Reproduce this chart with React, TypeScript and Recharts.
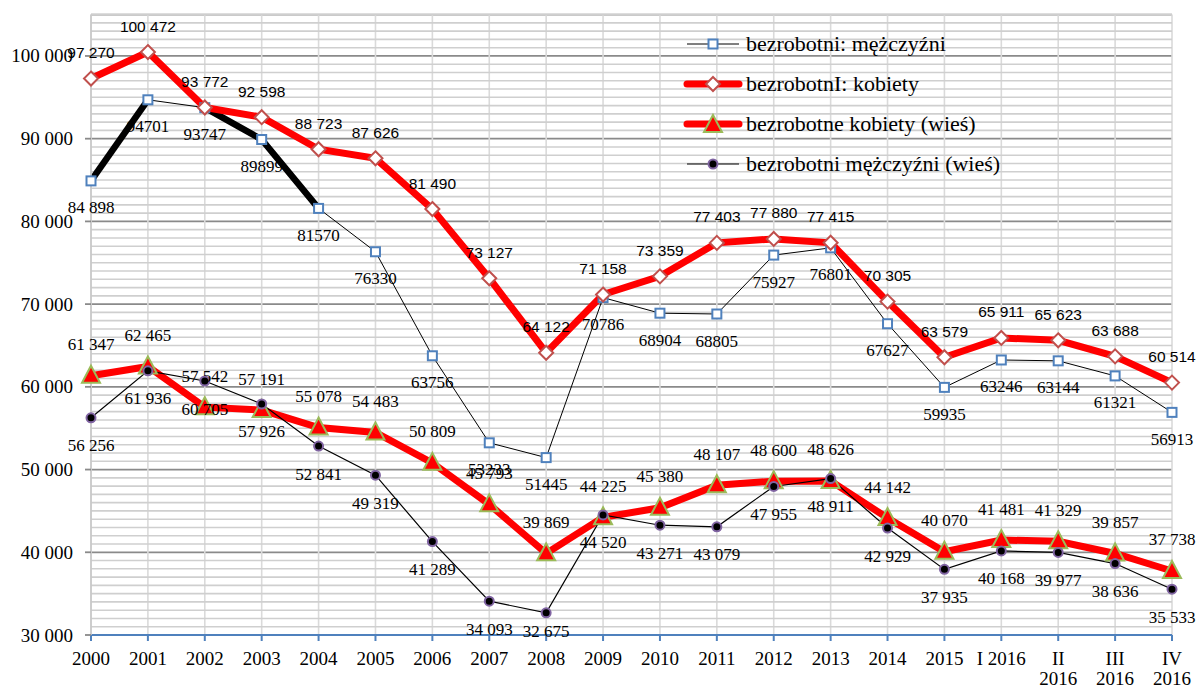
import React from "react";
import {
  LineChart,
  Line,
  XAxis,
  YAxis,
  CartesianGrid,
  ReferenceLine,
  LabelList,
  Legend,
} from "recharts";

const categories = [
  "2000", "2001", "2002", "2003", "2004", "2005", "2006", "2007", "2008", "2009",
  "2010", "2011", "2012", "2013", "2014", "2015", "I 2016", "II 2016", "III 2016", "IV 2016",
];
const tickLabels = [
  ["2000"], ["2001"], ["2002"], ["2003"], ["2004"], ["2005"], ["2006"], ["2007"], ["2008"], ["2009"],
  ["2010"], ["2011"], ["2012"], ["2013"], ["2014"], ["2015"], ["I 2016"], ["II", "2016"], ["III", "2016"], ["IV", "2016"],
];
const men = [
  84898, 94701, 93747, 89899, 81570, 76330, 63756, 53233, 51445, 70786,
  68904, 68805, 75927, 76801, 67627, 59935, 63246, 63144, 61321, 56913,
];
const women = [
  97270, 100472, 93772, 92598, 88723, 87626, 81490, 73127, 64122, 71158,
  73359, 77403, 77880, 77415, 70305, 63579, 65911, 65623, 63688, 60514,
];
const ruralWomen = [
  61347, 62465, 57542, 57191, 55078, 54483, 50809, 45793, 39869, 44225,
  45380, 48107, 48600, 48626, 44142, 40070, 41481, 41329, 39857, 37738,
];
const ruralMen = [
  56256, 61936, 60705, 57926, 52841, 49319, 41289, 34093, 32675, 44520,
  43271, 43079, 47955, 48911, 42929, 37935, 40168, 39977, 38636, 35533,
];
// index ranges of the thick black segments drawn over the men series
const thickSegA = [0, 1];
const thickSegB = [2, 4];
const yTicks = [30000, 40000, 50000, 60000, 70000, 80000, 90000, 100000];
const minorTicks = Array.from({ length: 75 }, (_, i) => 31000 + i * 1000).filter((v) => v % 10000 !== 0);

const data = categories.map((c, i) => ({
  cat: c,
  men: men[i],
  women: women[i],
  ruralWomen: ruralWomen[i],
  ruralMen: ruralMen[i],
  thickA: i >= thickSegA[0] && i <= thickSegA[1] ? men[i] : null,
  thickB: i >= thickSegB[0] && i <= thickSegB[1] ? men[i] : null,
}));

const fmtSpace = (v: number) => {
  const s = String(v);
  return s.length > 3 ? s.slice(0, s.length - 3) + " " + s.slice(s.length - 3) : s;
};

const SERIF = "Liberation Serif";
const SANS = "Liberation Sans";

const SquareDot = (p: any) => {
  const { cx, cy, index } = p;
  if (cx == null || cy == null) return <g key={`sq-${index}`} />;
  return <rect key={`sq-${index}`} x={cx - 4.5} y={cy - 4.5} width={9} height={9} fill="#fff" stroke="#4f81bd" strokeWidth={2} />;
};
const DiamondDot = (p: any) => {
  const { cx, cy, index } = p;
  if (cx == null || cy == null) return <g key={`di-${index}`} />;
  return (
    <polygon
      key={`di-${index}`}
      points={`${cx},${cy - 7} ${cx + 7},${cy} ${cx},${cy + 7} ${cx - 7},${cy}`}
      fill="#fff"
      stroke="#c0504d"
      strokeWidth={2}
    />
  );
};
const TriangleDot = (p: any) => {
  const { cx, cy, index } = p;
  if (cx == null || cy == null) return <g key={`tr-${index}`} />;
  return (
    <polygon
      key={`tr-${index}`}
      points={`${cx},${cy - 10} ${cx + 9},${cy + 7} ${cx - 9},${cy + 7}`}
      fill="#ff0000"
      stroke="#9bbb59"
      strokeWidth={2}
    />
  );
};
const CircleDot = (p: any) => {
  const { cx, cy, index } = p;
  if (cx == null || cy == null) return <g key={`ci-${index}`} />;
  return <circle key={`ci-${index}`} cx={cx} cy={cy} r={4.5} fill="#000" stroke="#8064a2" strokeWidth={2} />;
};

const makeLabel = (offset: number, font: string, size: number, format: (v: number, i: number) => string) =>
  (p: any) => {
    const { x, y, value, index } = p;
    if (x == null || y == null || value == null) return null;
    const ty = Math.min(Number(y) + offset, 631);
    return (
      <text
        key={`lb-${index}`}
        x={x}
        y={ty}
        textAnchor="middle"
        dominantBaseline="central"
        style={{ fontFamily: font, fontSize: size }}
        fill="#000"
      >
        {format(Number(value), index)}
      </text>
    );
  };

const menLabel = makeLabel(27, SERIF, 17, (v, i) => (i === 0 ? fmtSpace(v) : String(v)));
const womenLabel = makeLabel(-26, SANS, 15.5, (v) => fmtSpace(v));
const ruralWomenLabel = makeLabel(-31, SERIF, 17, (v) => fmtSpace(v));
const ruralMenLabel = makeLabel(28, SERIF, 17, (v) => fmtSpace(v));

const XTick = (p: any) => {
  const { x, y, payload } = p;
  const lines = tickLabels[payload.index] || [String(payload.value)];
  return (
    <g>
      {lines.map((l: string, k: number) => (
        <text key={k} x={x} y={y + 22 + k * 20} textAnchor="middle" style={{ fontFamily: SERIF, fontSize: 19 }} fill="#000">
          {l}
        </text>
      ))}
    </g>
  );
};

const YTick = (p: any) => {
  const { x, y, payload } = p;
  return (
    <text x={x} y={y} textAnchor="end" dominantBaseline="central" style={{ fontFamily: SERIF, fontSize: 19 }} fill="#000">
      {fmtSpace(Number(payload.value))}
    </text>
  );
};

const legendItems = [
  { name: "bezrobotni: mężczyźni", color: "#000", width: 1, marker: "square" },
  { name: "bezrobotnI: kobiety", color: "#ff0000", width: 7, marker: "diamond" },
  { name: "bezrobotne kobiety (wieś)", color: "#ff0000", width: 7, marker: "triangle" },
  { name: "bezrobotni mężczyźni (wieś)", color: "#000", width: 1.2, marker: "circle" },
];

const LegendMarker = ({ marker }: { marker: string }) => {
  const cx = 27, cy = 12;
  if (marker === "square") return <SquareDot cx={cx} cy={cy} index={0} />;
  if (marker === "diamond") return <DiamondDot cx={cx} cy={cy} index={0} />;
  if (marker === "triangle") return <TriangleDot cx={cx} cy={cy + 1} index={0} />;
  return <CircleDot cx={cx} cy={cy} index={0} />;
};

const LegendBox = () => (
  <div style={{ display: "flex", flexDirection: "column" }}>
    {legendItems.map((it) => (
      <div key={it.name} style={{ display: "flex", alignItems: "center", height: 40 }}>
        <svg width={54} height={24} style={{ overflow: "visible" }}>
          <line x1={1} y1={12} x2={53} y2={12} stroke={it.color} strokeWidth={it.width} strokeLinecap={it.width > 3 ? "round" : "butt"} />
          <LegendMarker marker={it.marker} />
        </svg>
        <span style={{ marginLeft: 6, fontFamily: SERIF, fontSize: 22, color: "#000", whiteSpace: "nowrap" }}>{it.name}</span>
      </div>
    ))}
  </div>
);

export default function App() {
  return (
    <div style={{ position: "absolute", left: 0, top: 0, width: 1198, height: 689, background: "#fff" }}>
      <LineChart width={1198} height={689} data={data} margin={{ top: 14.6, right: 26, bottom: 0, left: 0 }}>
        {minorTicks.map((v) => (
          <ReferenceLine key={v} y={v} stroke="#cfcfcf" strokeWidth={1.6} />
        ))}
        <CartesianGrid vertical={false} stroke="#8a8a8a" strokeWidth={1.8} />
        <CartesianGrid horizontal={false} stroke="#dadada" strokeWidth={1.6} />
        <XAxis
          dataKey="cat"
          scale="point"
          padding={{ left: 0, right: 0 }}
          interval={0}
          height={54}
          axisLine={{ stroke: "#4f81bd", strokeWidth: 2 }}
          tickLine={{ stroke: "#4f81bd", strokeWidth: 2 }}
          tickSize={6}
          tick={<XTick />}
        />
        <YAxis
          width={91}
          domain={[30000, 105000]}
          ticks={yTicks}
          allowDataOverflow
          axisLine={{ stroke: "#c8c8c8", strokeWidth: 1.6 }}
          tickLine={{ stroke: "#8a8a8a", strokeWidth: 1.8 }}
          tickSize={6}
          tickMargin={12}
          tick={<YTick />}
        />
        <Legend
          layout="vertical"
          align="center"
          verticalAlign="middle"
          wrapperStyle={{ left: 686, top: 24, width: 340, height: 160 }}
          content={() => <LegendBox />}
        />
        <Line
          dataKey="ruralWomen"
          name="bezrobotne kobiety (wieś)"
          stroke="#ff0000"
          strokeWidth={7}
          dot={TriangleDot}
          activeDot={false}
          isAnimationActive={false}
        >
          <LabelList dataKey="ruralWomen" content={ruralWomenLabel} />
        </Line>
        <Line
          dataKey="ruralMen"
          name="bezrobotni mężczyźni (wieś)"
          stroke="#000"
          strokeWidth={1.2}
          dot={CircleDot}
          activeDot={false}
          isAnimationActive={false}
        >
          <LabelList dataKey="ruralMen" content={ruralMenLabel} />
        </Line>
        <Line dataKey="thickA" stroke="#000" strokeWidth={6.5} dot={false} activeDot={false} legendType="none" connectNulls={false} isAnimationActive={false} />
        <Line dataKey="thickB" stroke="#000" strokeWidth={6.5} dot={false} activeDot={false} legendType="none" connectNulls={false} isAnimationActive={false} />
        <Line
          dataKey="men"
          name="bezrobotni: mężczyźni"
          stroke="#000"
          strokeWidth={1}
          dot={SquareDot}
          activeDot={false}
          isAnimationActive={false}
        >
          <LabelList dataKey="men" content={menLabel} />
        </Line>
        <Line
          dataKey="women"
          name="bezrobotnI: kobiety"
          stroke="#ff0000"
          strokeWidth={7}
          dot={DiamondDot}
          activeDot={false}
          isAnimationActive={false}
        >
          <LabelList dataKey="women" content={womenLabel} />
        </Line>
      </LineChart>
    </div>
  );
}
